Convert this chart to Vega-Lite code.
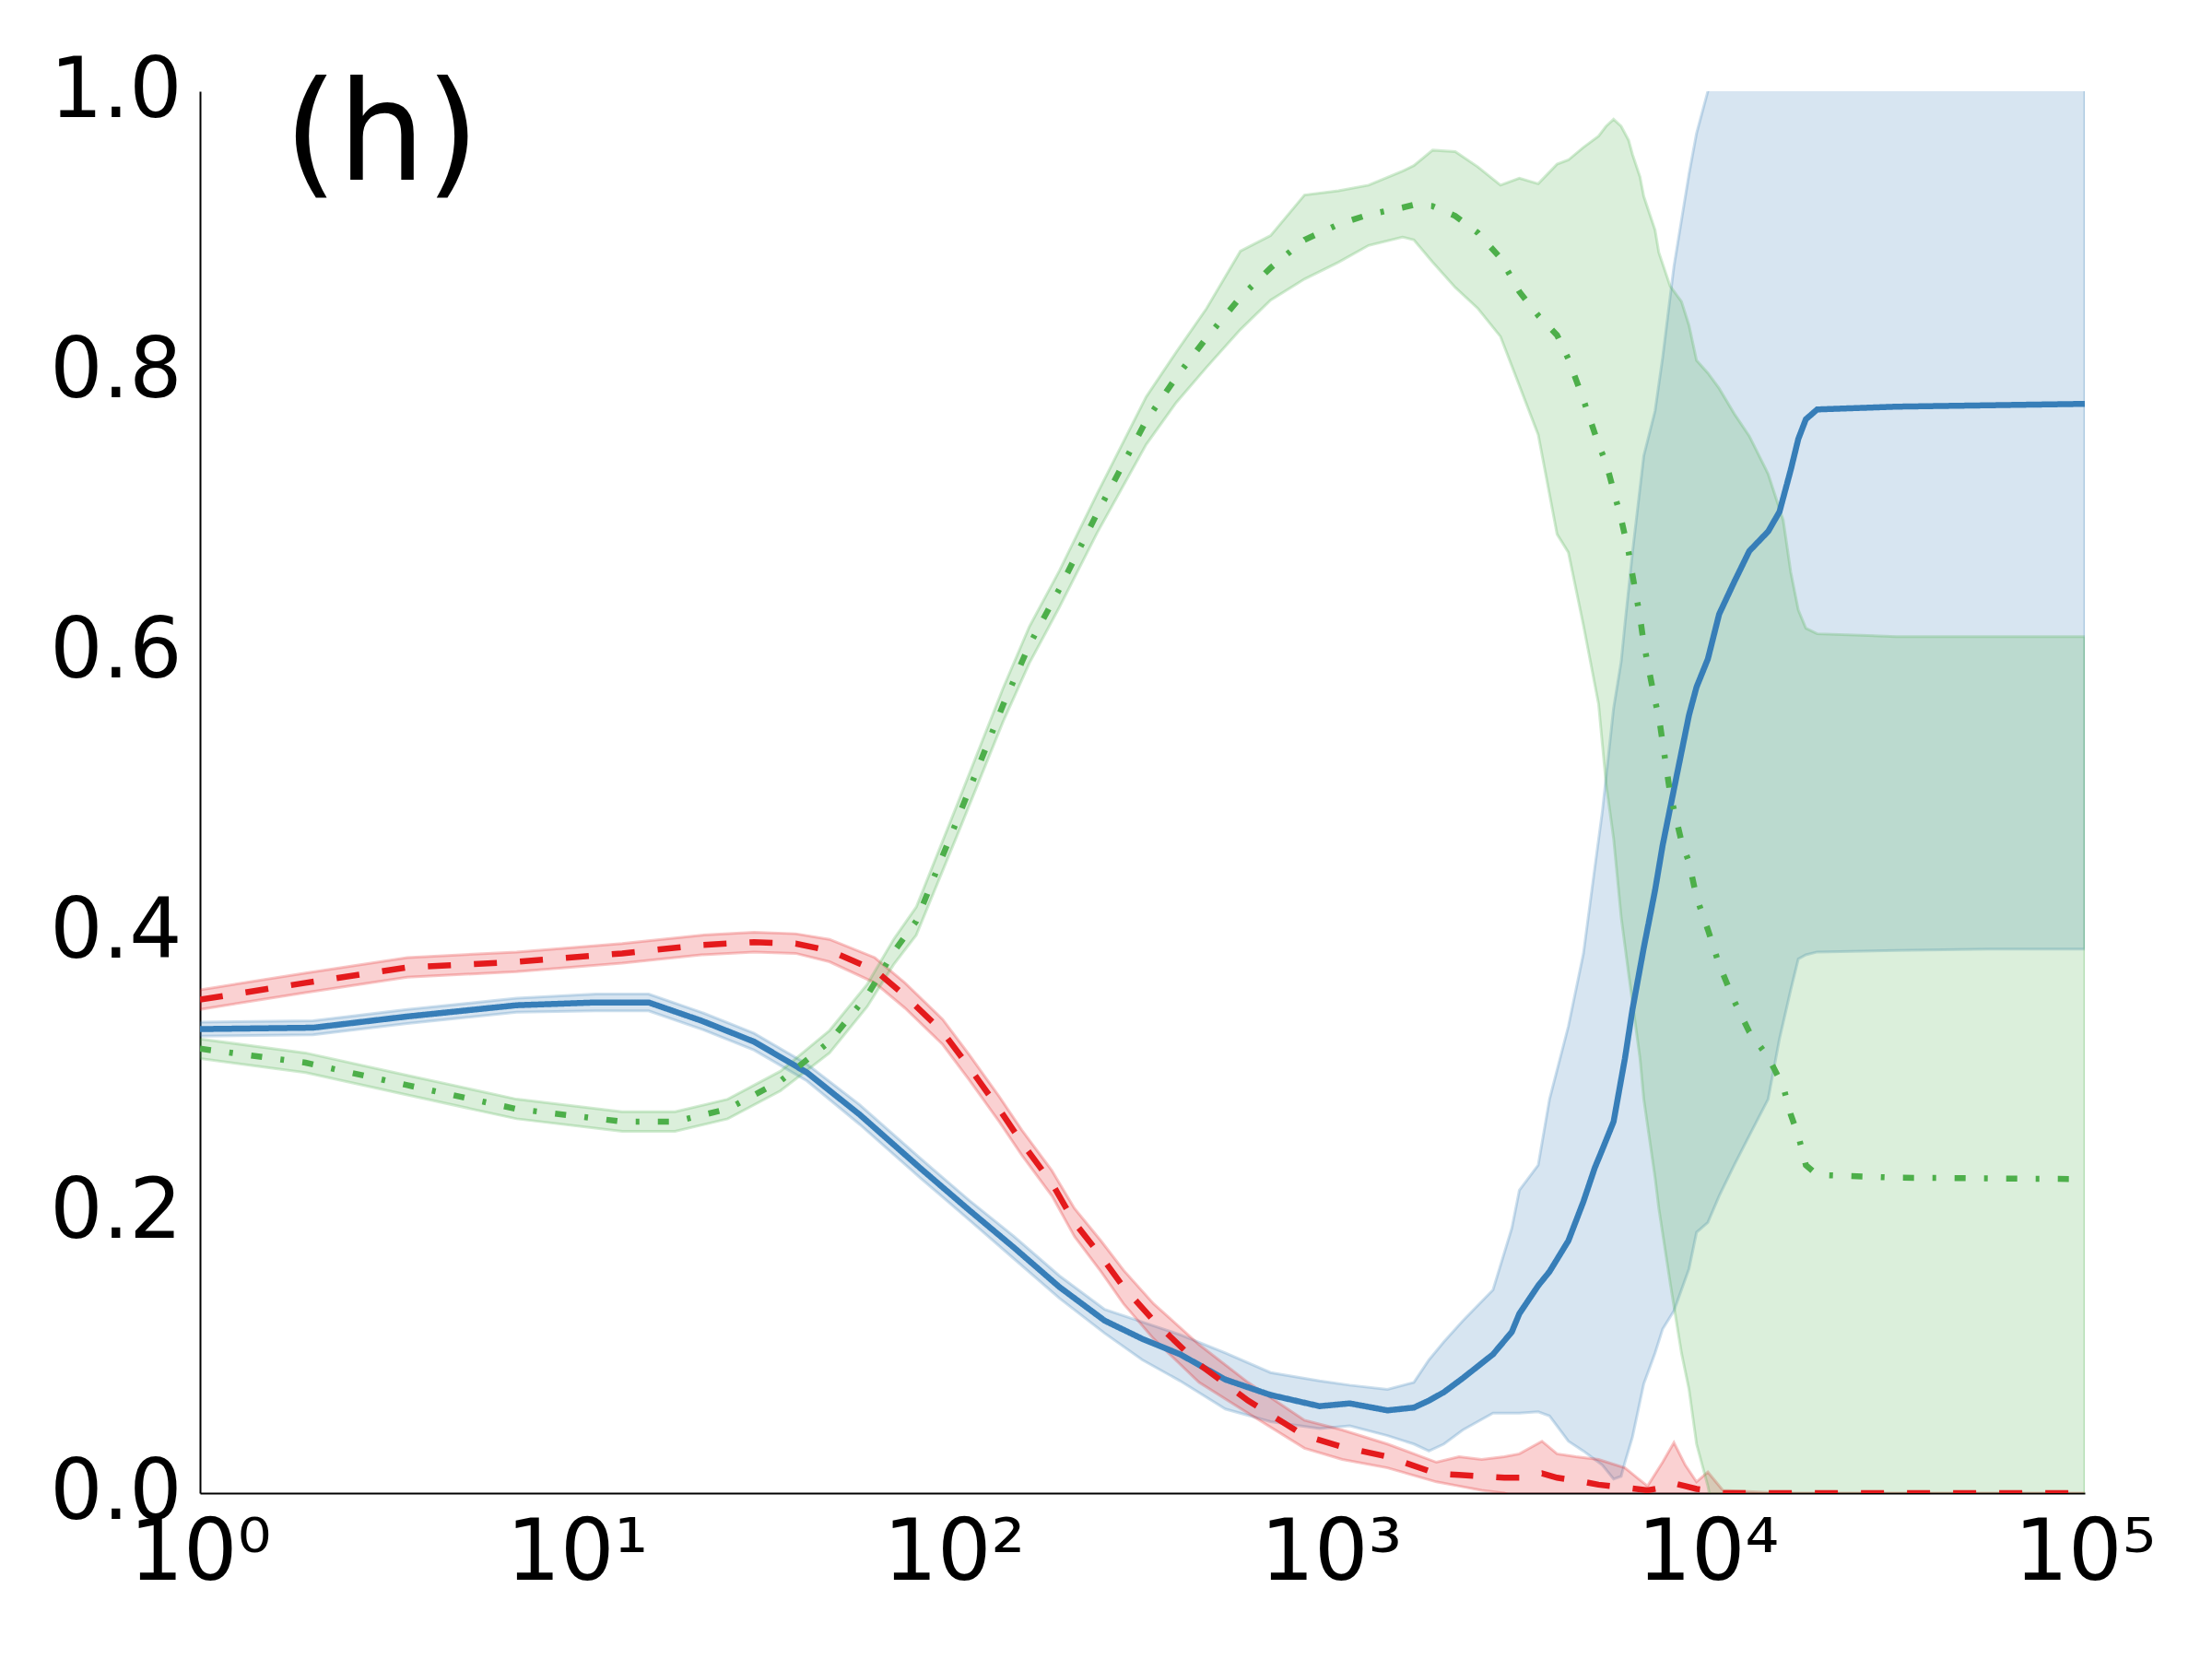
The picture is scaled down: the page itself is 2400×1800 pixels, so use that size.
{
  "$schema": "https://vega.github.io/schema/vega-lite/v6.json",
  "width": 2045,
  "height": 1521,
  "autosize": {"type": "none"},
  "padding": {"left": 217, "top": 99, "right": 138, "bottom": 180},
  "background": "white",
  "config": {"view": {"stroke": null}, "font": "DejaVu Sans"},
  "data": {"values": [
    {"s":"b","t":1,"m":0.331,"lo":0.326,"hi":0.336},
    {"s":"b","t":1.995,"m":0.332,"lo":0.327,"hi":0.337},
    {"s":"b","t":3.548,"m":0.340,"lo":0.335,"hi":0.345},
    {"s":"b","t":6.918,"m":0.348,"lo":0.343,"hi":0.353},
    {"s":"b","t":11.22,"m":0.350,"lo":0.344,"hi":0.356},
    {"s":"b","t":15.49,"m":0.350,"lo":0.344,"hi":0.356},
    {"s":"b","t":21.38,"m":0.337,"lo":0.331,"hi":0.343},
    {"s":"b","t":29.51,"m":0.322,"lo":0.316,"hi":0.328},
    {"s":"b","t":40.74,"m":0.300,"lo":0.294,"hi":0.306},
    {"s":"b","t":56.23,"m":0.270,"lo":0.263,"hi":0.277},
    {"s":"b","t":81.28,"m":0.232,"lo":0.225,"hi":0.239},
    {"s":"b","t":109.6,"m":0.202,"lo":0.195,"hi":0.209},
    {"s":"b","t":144.5,"m":0.175,"lo":0.167,"hi":0.183},
    {"s":"b","t":190.5,"m":0.147,"lo":0.139,"hi":0.155},
    {"s":"b","t":251.2,"m":0.123,"lo":0.114,"hi":0.131},
    {"s":"b","t":316.2,"m":0.110,"lo":0.095,"hi":0.122},
    {"s":"b","t":398.1,"m":0.099,"lo":0.080,"hi":0.113},
    {"s":"b","t":524.8,"m":0.081,"lo":0.060,"hi":0.100},
    {"s":"b","t":691.8,"m":0.070,"lo":0.051,"hi":0.086},
    {"s":"b","t":933.3,"m":0.062,"lo":0.046,"hi":0.080},
    {"s":"b","t":1122,"m":0.064,"lo":0.048,"hi":0.077},
    {"s":"b","t":1413,"m":0.059,"lo":0.041,"hi":0.074},
    {"s":"b","t":1660,"m":0.061,"lo":0.035,"hi":0.079},
    {"s":"b","t":1820,"m":0.066,"lo":0.030,"hi":0.095},
    {"s":"b","t":1995,"m":0.072,"lo":0.035,"hi":0.108},
    {"s":"b","t":2239,"m":0.082,"lo":0.045,"hi":0.123},
    {"s":"b","t":2692,"m":0.099,"lo":0.057,"hi":0.145},
    {"s":"b","t":3020,"m":0.115,"lo":0.057,"hi":0.189},
    {"s":"b","t":3162,"m":0.128,"lo":0.057,"hi":0.216},
    {"s":"b","t":3548,"m":0.148,"lo":0.058,"hi":0.234},
    {"s":"b","t":3802,"m":0.158,"lo":0.055,"hi":0.281},
    {"s":"b","t":4266,"m":0.180,"lo":0.037,"hi":0.333},
    {"s":"b","t":4677,"m":0.208,"lo":0.030,"hi":0.385},
    {"s":"b","t":5012,"m":0.232,"lo":0.024,"hi":0.446},
    {"s":"b","t":5248,"m":0.245,"lo":0.020,"hi":0.486},
    {"s":"b","t":5623,"m":0.265,"lo":0.010,"hi":0.560},
    {"s":"b","t":5888,"m":0.295,"lo":0.012,"hi":0.593},
    {"s":"b","t":6026,"m":0.310,"lo":0.022,"hi":0.620},
    {"s":"b","t":6310,"m":0.345,"lo":0.040,"hi":0.671},
    {"s":"b","t":6761,"m":0.389,"lo":0.078,"hi":0.740},
    {"s":"b","t":7244,"m":0.430,"lo":0.100,"hi":0.772},
    {"s":"b","t":7586,"m":0.462,"lo":0.117,"hi":0.810},
    {"s":"b","t":8128,"m":0.502,"lo":0.130,"hi":0.875},
    {"s":"b","t":8913,"m":0.555,"lo":0.160,"hi":0.941},
    {"s":"b","t":9333,"m":0.575,"lo":0.186,"hi":0.970},
    {"s":"b","t":10000,"m":0.595,"lo":0.193,"hi":1.000},
    {"s":"b","t":10715,"m":0.627,"lo":0.212,"hi":1.042},
    {"s":"b","t":11749,"m":0.650,"lo":0.234,"hi":1.066},
    {"s":"b","t":12882,"m":0.672,"lo":0.255,"hi":1.089},
    {"s":"b","t":14454,"m":0.686,"lo":0.281,"hi":1.091},
    {"s":"b","t":15488,"m":0.700,"lo":0.324,"hi":1.076},
    {"s":"b","t":16596,"m":0.730,"lo":0.359,"hi":1.101},
    {"s":"b","t":17378,"m":0.752,"lo":0.381,"hi":1.123},
    {"s":"b","t":18197,"m":0.766,"lo":0.384,"hi":1.148},
    {"s":"b","t":19498,"m":0.773,"lo":0.386,"hi":1.160},
    {"s":"b","t":31623,"m":0.775,"lo":0.387,"hi":1.163},
    {"s":"b","t":56234,"m":0.776,"lo":0.388,"hi":1.164},
    {"s":"b","t":100000,"m":0.777,"lo":0.388,"hi":1.166},

    {"s":"r","t":1,"m":0.352,"lo":0.345,"hi":0.359},
    {"s":"r","t":1.905,"m":0.364,"lo":0.357,"hi":0.371},
    {"s":"r","t":3.548,"m":0.375,"lo":0.368,"hi":0.382},
    {"s":"r","t":6.918,"m":0.379,"lo":0.372,"hi":0.386},
    {"s":"r","t":13.18,"m":0.385,"lo":0.378,"hi":0.392},
    {"s":"r","t":21.38,"m":0.391,"lo":0.384,"hi":0.398},
    {"s":"r","t":29.51,"m":0.393,"lo":0.386,"hi":0.400},
    {"s":"r","t":38.02,"m":0.392,"lo":0.385,"hi":0.399},
    {"s":"r","t":46.77,"m":0.387,"lo":0.379,"hi":0.395},
    {"s":"r","t":61.66,"m":0.373,"lo":0.364,"hi":0.382},
    {"s":"r","t":74.13,"m":0.355,"lo":0.346,"hi":0.364},
    {"s":"r","t":93.33,"m":0.329,"lo":0.320,"hi":0.338},
    {"s":"r","t":109.6,"m":0.304,"lo":0.295,"hi":0.313},
    {"s":"r","t":131.8,"m":0.274,"lo":0.265,"hi":0.283},
    {"s":"r","t":151.4,"m":0.250,"lo":0.241,"hi":0.259},
    {"s":"r","t":182.0,"m":0.221,"lo":0.212,"hi":0.230},
    {"s":"r","t":208.9,"m":0.193,"lo":0.183,"hi":0.203},
    {"s":"r","t":245.5,"m":0.169,"lo":0.158,"hi":0.180},
    {"s":"r","t":281.8,"m":0.147,"lo":0.135,"hi":0.159},
    {"s":"r","t":338.8,"m":0.123,"lo":0.110,"hi":0.135},
    {"s":"r","t":446.7,"m":0.092,"lo":0.079,"hi":0.106},
    {"s":"r","t":602.6,"m":0.066,"lo":0.057,"hi":0.079},
    {"s":"r","t":851.1,"m":0.041,"lo":0.032,"hi":0.052},
    {"s":"r","t":1072,"m":0.033,"lo":0.024,"hi":0.045},
    {"s":"r","t":1413,"m":0.026,"lo":0.018,"hi":0.035},
    {"s":"r","t":1905,"m":0.014,"lo":0.008,"hi":0.022},
    {"s":"r","t":2188,"m":0.013,"lo":0.005,"hi":0.026},
    {"s":"r","t":2512,"m":0.012,"lo":0.002,"hi":0.024},
    {"s":"r","t":2884,"m":0.011,"lo":0.000,"hi":0.026},
    {"s":"r","t":3162,"m":0.011,"lo":-0.004,"hi":0.028},
    {"s":"r","t":3631,"m":0.014,"lo":-0.005,"hi":0.037},
    {"s":"r","t":3981,"m":0.011,"lo":-0.005,"hi":0.028},
    {"s":"r","t":4467,"m":0.009,"lo":-0.006,"hi":0.026},
    {"s":"r","t":5129,"m":0.006,"lo":-0.010,"hi":0.024},
    {"s":"r","t":6026,"m":0.004,"lo":-0.010,"hi":0.018},
    {"s":"r","t":6918,"m":0.002,"lo":-0.010,"hi":0.005},
    {"s":"r","t":7586,"m":0.004,"lo":-0.012,"hi":0.022},
    {"s":"r","t":8128,"m":0.007,"lo":-0.020,"hi":0.036},
    {"s":"r","t":8710,"m":0.005,"lo":-0.010,"hi":0.020},
    {"s":"r","t":9333,"m":0.003,"lo":-0.008,"hi":0.008},
    {"s":"r","t":10000,"m":0.002,"lo":-0.008,"hi":0.015},
    {"s":"r","t":10965,"m":0.000,"lo":-0.002,"hi":0.002},
    {"s":"r","t":15849,"m":0.000,"lo":0.000,"hi":0.000},
    {"s":"r","t":100000,"m":0.000,"lo":0.000,"hi":0.000},

    {"s":"g","t":1,"m":0.317,"lo":0.310,"hi":0.324},
    {"s":"g","t":1.905,"m":0.307,"lo":0.300,"hi":0.314},
    {"s":"g","t":3.548,"m":0.291,"lo":0.284,"hi":0.298},
    {"s":"g","t":6.918,"m":0.274,"lo":0.267,"hi":0.281},
    {"s":"g","t":13.18,"m":0.265,"lo":0.258,"hi":0.272},
    {"s":"g","t":18.20,"m":0.265,"lo":0.258,"hi":0.272},
    {"s":"g","t":25.12,"m":0.274,"lo":0.267,"hi":0.281},
    {"s":"g","t":34.67,"m":0.294,"lo":0.287,"hi":0.301},
    {"s":"g","t":46.77,"m":0.322,"lo":0.314,"hi":0.330},
    {"s":"g","t":58.88,"m":0.355,"lo":0.347,"hi":0.363},
    {"s":"g","t":69.18,"m":0.386,"lo":0.377,"hi":0.395},
    {"s":"g","t":79.43,"m":0.408,"lo":0.398,"hi":0.418},
    {"s":"g","t":102.3,"m":0.481,"lo":0.470,"hi":0.492},
    {"s":"g","t":134.9,"m":0.562,"lo":0.550,"hi":0.574},
    {"s":"g","t":158.5,"m":0.605,"lo":0.592,"hi":0.618},
    {"s":"g","t":190.5,"m":0.645,"lo":0.632,"hi":0.658},
    {"s":"g","t":239.9,"m":0.699,"lo":0.685,"hi":0.713},
    {"s":"g","t":323.6,"m":0.765,"lo":0.748,"hi":0.782},
    {"s":"g","t":389.0,"m":0.796,"lo":0.778,"hi":0.814},
    {"s":"g","t":467.7,"m":0.824,"lo":0.803,"hi":0.845},
    {"s":"g","t":575.4,"m":0.853,"lo":0.830,"hi":0.886},
    {"s":"g","t":691.8,"m":0.874,"lo":0.851,"hi":0.897},
    {"s":"g","t":851.1,"m":0.894,"lo":0.866,"hi":0.926},
    {"s":"g","t":1047,"m":0.905,"lo":0.878,"hi":0.929},
    {"s":"g","t":1259,"m":0.912,"lo":0.890,"hi":0.933},
    {"s":"g","t":1549,"m":0.917,"lo":0.896,"hi":0.943},
    {"s":"g","t":1660,"m":0.919,"lo":0.894,"hi":0.947},
    {"s":"g","t":1862,"m":0.918,"lo":0.878,"hi":0.958},
    {"s":"g","t":2138,"m":0.911,"lo":0.860,"hi":0.957},
    {"s":"g","t":2455,"m":0.899,"lo":0.845,"hi":0.946},
    {"s":"g","t":2818,"m":0.881,"lo":0.825,"hi":0.933},
    {"s":"g","t":3162,"m":0.857,"lo":0.790,"hi":0.938},
    {"s":"g","t":3548,"m":0.840,"lo":0.755,"hi":0.934},
    {"s":"g","t":3981,"m":0.826,"lo":0.684,"hi":0.948},
    {"s":"g","t":4266,"m":0.809,"lo":0.671,"hi":0.951},
    {"s":"g","t":4677,"m":0.780,"lo":0.619,"hi":0.960},
    {"s":"g","t":5129,"m":0.748,"lo":0.563,"hi":0.968},
    {"s":"g","t":5370,"m":0.735,"lo":0.506,"hi":0.975},
    {"s":"g","t":5623,"m":0.715,"lo":0.467,"hi":0.980},
    {"s":"g","t":5888,"m":0.695,"lo":0.411,"hi":0.975},
    {"s":"g","t":6166,"m":0.671,"lo":0.370,"hi":0.965},
    {"s":"g","t":6310,"m":0.655,"lo":0.350,"hi":0.955},
    {"s":"g","t":6607,"m":0.625,"lo":0.310,"hi":0.939},
    {"s":"g","t":6761,"m":0.606,"lo":0.281,"hi":0.925},
    {"s":"g","t":7244,"m":0.565,"lo":0.225,"hi":0.901},
    {"s":"g","t":7413,"m":0.554,"lo":0.203,"hi":0.885},
    {"s":"g","t":7943,"m":0.499,"lo":0.150,"hi":0.861},
    {"s":"g","t":8511,"m":0.465,"lo":0.100,"hi":0.850},
    {"s":"g","t":8913,"m":0.450,"lo":0.074,"hi":0.833},
    {"s":"g","t":9333,"m":0.425,"lo":0.035,"hi":0.808},
    {"s":"g","t":10000,"m":0.402,"lo":0.005,"hi":0.799},
    {"s":"g","t":10715,"m":0.377,"lo":-0.034,"hi":0.788},
    {"s":"g","t":11749,"m":0.351,"lo":-0.068,"hi":0.770},
    {"s":"g","t":12882,"m":0.329,"lo":-0.096,"hi":0.754},
    {"s":"g","t":14454,"m":0.311,"lo":-0.105,"hi":0.727},
    {"s":"g","t":15849,"m":0.290,"lo":-0.114,"hi":0.694},
    {"s":"g","t":16596,"m":0.270,"lo":-0.117,"hi":0.657},
    {"s":"g","t":17378,"m":0.255,"lo":-0.120,"hi":0.630},
    {"s":"g","t":18197,"m":0.234,"lo":-0.149,"hi":0.617},
    {"s":"g","t":19498,"m":0.227,"lo":-0.159,"hi":0.613},
    {"s":"g","t":31623,"m":0.225,"lo":-0.161,"hi":0.611},
    {"s":"g","t":100000,"m":0.224,"lo":-0.163,"hi":0.611}
  ]},
  "layer": [
    {
      "mark": {"type": "area", "clip": true, "fillOpacity": 0.2, "strokeOpacity": 0.25, "strokeWidth": 3},
      "encoding": {
        "x": {"field": "t", "type": "quantitative", "scale": {"type": "log", "domain": [1, 100000]},
          "axis": {"values": [1, 10, 100, 1000, 10000, 100000], "labelExpr": "'10' + ['⁰','¹','²','³','⁴','⁵'][round(log(datum.value)/LN10)]",
            "labelFontSize": 92, "labelFont": "DejaVu Sans", "labelColor": "black", "labelPadding": 20, "labelFlush": false, "labelOverlap": false,
            "ticks": false, "grid": false, "domainColor": "black", "domainWidth": 2, "title": null}},
        "y": {"field": "lo", "type": "quantitative", "scale": {"domain": [0, 1], "nice": false},
          "axis": {"values": [0, 0.2, 0.4, 0.6, 0.8, 1.0], "format": ".1f", "labelFontSize": 90, "labelFont": "DejaVu Sans", "labelColor": "black",
            "labelPadding": 20, "labelFlush": false, "labelOverlap": false, "ticks": false, "grid": false, "domainColor": "black", "domainWidth": 2, "title": null}},
        "y2": {"field": "hi"},
        "color": {"field": "s", "type": "nominal", "scale": {"domain": ["b", "r", "g"], "range": ["#377eb8", "#e41a1c", "#4daf4a"]}, "legend": null},
        "stroke": {"field": "s", "type": "nominal", "scale": {"domain": ["b", "r", "g"], "range": ["#377eb8", "#e41a1c", "#4daf4a"]}, "legend": null}
      }
    },
    {
      "mark": {"type": "line", "clip": true, "strokeWidth": 6.5, "strokeCap": "butt"},
      "encoding": {
        "x": {"field": "t", "type": "quantitative"},
        "y": {"field": "m", "type": "quantitative"},
        "color": {"field": "s", "type": "nominal", "scale": {"domain": ["b", "r", "g"], "range": ["#377eb8", "#e41a1c", "#4daf4a"]}, "legend": null},
        "strokeDash": {"field": "s", "type": "nominal", "scale": {"domain": ["b", "r", "g"], "range": [[1, 0], [25, 25], [12, 20, 4, 20]]}, "legend": null}
      }
    },
    {
      "data": {"values": [{"label": "(h)"}]},
      "mark": {"type": "text", "align": "left", "baseline": "alphabetic", "fontSize": 150, "font": "DejaVu Sans", "color": "black"},
      "encoding": {
        "x": {"datum": 1.67, "type": "quantitative"},
        "y": {"datum": 0.937, "type": "quantitative"},
        "text": {"field": "label"}
      }
    }
  ]
}
